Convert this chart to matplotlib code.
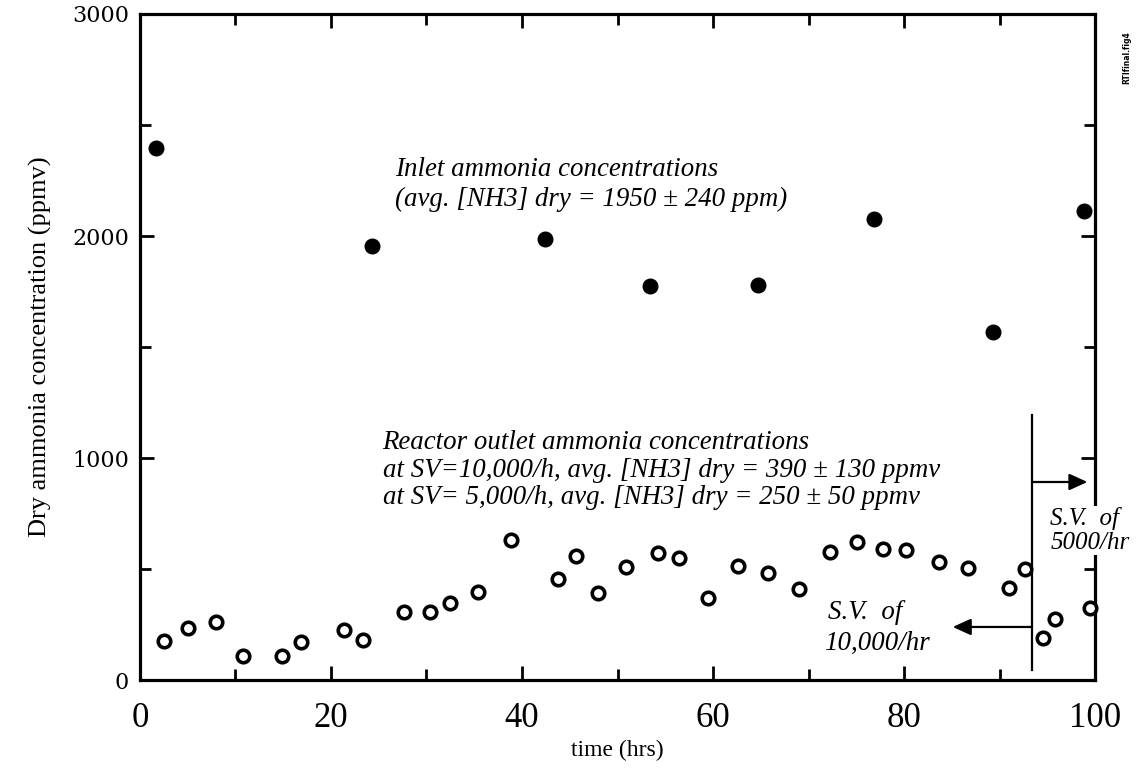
import numpy as np
import matplotlib
matplotlib.use('Agg')
import matplotlib.pyplot as plt
from matplotlib.ticker import MultipleLocator

# inlet (filled) and reactor outlet (open) ammonia
inlet_time = [1.7, 24.3, 42.4, 53.4, 64.7, 76.9, 89.3, 98.8]
inlet_ppm = [2395, 1956, 1985, 1776, 1779, 2076, 1566, 2114]

outlet_time = [2.5, 5.0, 8.0, 10.8, 14.9, 16.9, 21.4, 23.4, 27.6, 30.4,
               32.5, 35.4, 38.9, 43.8, 45.7, 48.0, 50.9, 54.2, 56.4, 59.5,
               62.6, 65.8, 69.0, 72.2, 75.1, 77.8, 80.2, 83.7, 86.7, 91.0,
               92.7, 94.6, 95.8, 99.5]
outlet_ppm = [176, 233, 260, 107, 107, 170, 225, 179, 308, 308,
              345, 395, 631, 454, 559, 393, 510, 571, 548, 371,
              515, 480, 410, 578, 620, 589, 586, 530, 506, 413,
              499, 188, 275, 323]

sv_switch = 93.4  # hrs, space velocity change

x_ticks = [0, 20, 40, 60, 80, 100]
y_ticks = [0, 1000, 2000, 3000]

fig = plt.figure(figsize=(11.37, 7.69), dpi=100)
ax = fig.add_axes([0.1231, 0.1157, 0.8400, 0.8661])

ax.plot(inlet_time, inlet_ppm, 'o', color='black', markersize=10.5, zorder=4)
ax.plot(outlet_time, outlet_ppm, 'o', markerfacecolor='white',
        markeredgecolor='black', markersize=9, markeredgewidth=2.6,
        zorder=4, clip_on=False)

ax.set_xlim(0, 100)
ax.set_ylim(0, 3000)

for s in ax.spines.values():
    s.set_linewidth(2.3)

ax.xaxis.set_major_locator(MultipleLocator(20))
ax.xaxis.set_minor_locator(MultipleLocator(10))
ax.yaxis.set_major_locator(MultipleLocator(1000))
ax.yaxis.set_minor_locator(MultipleLocator(500))
ax.tick_params(which='major', direction='in', top=True, right=True,
               length=10, width=2)
ax.tick_params(which='minor', direction='in', top=True, right=True,
               length=8, width=2)
ax.tick_params(axis='x', which='major', pad=16)
ax.tick_params(axis='y', which='major', pad=8)

ax.set_xticks(x_ticks)
ax.set_xticklabels([str(t) for t in x_ticks], fontfamily='Liberation Serif',
                   fontsize=25)
ax.set_yticks(y_ticks)
ax.set_yticklabels([str(t) for t in y_ticks], fontfamily='DejaVu Serif',
                   fontsize=16)

ax.set_xlabel('time (hrs)', fontfamily='Liberation Serif', fontsize=17,
              labelpad=3)
ax.set_ylabel('Dry ammonia concentration (ppmv)', fontfamily='Liberation Serif',
              fontsize=19, labelpad=14)

txt = dict(fontfamily='Liberation Serif', style='italic', fontsize=19.4)
ax.text(26.7, 2300, 'Inlet ammonia concentrations', va='center', **txt)
ax.text(26.7, 2165, '(avg. [NH3] dry = 1950 \u00b1 240 ppm)', va='center', **txt)

ax.text(25.4, 1072, 'Reactor outlet ammonia concentrations', va='center', **txt)
ax.text(25.4, 946, 'at SV=10,000/h, avg. [NH3] dry = 390 \u00b1 130 ppmv',
        va='center', **txt)
ax.text(25.4, 822, 'at SV= 5,000/h, avg. [NH3] dry = 250 \u00b1 50 ppmv',
        va='center', **txt)

# space velocity switch marker and arrows
ax.plot([sv_switch, sv_switch], [45, 1194], color='black', linewidth=1.6,
        zorder=3)
arrow = dict(arrowstyle='-|>,head_length=1.1,head_width=0.5',
             color='black', linewidth=1.6, shrinkA=0, shrinkB=0)
ax.annotate('', xy=(99.2, 892), xytext=(sv_switch, 892), arrowprops=arrow)
ax.annotate('', xy=(85.1, 239), xytext=(sv_switch, 239), arrowprops=arrow)

ax.text(72.0, 302, 'S.V.  of', va='center', **txt)
ax.text(71.6, 167, '10,000/hr', va='center', **txt)
ax.text(95.3, 674, 'S.V.  of\n5000/hr', va='center', ha='left',
        linespacing=1.1, clip_on=False, zorder=6,
        fontfamily='Liberation Serif', style='italic', fontsize=18,
        bbox=dict(facecolor='white', edgecolor='none', pad=1))

fig.text(0.991, 0.96, 'RTIfinal.fig4', rotation=90, fontsize=5.5,
         fontweight='bold', fontfamily='DejaVu Sans', ha='center', va='top')

fig.savefig('out.png', dpi=100)
